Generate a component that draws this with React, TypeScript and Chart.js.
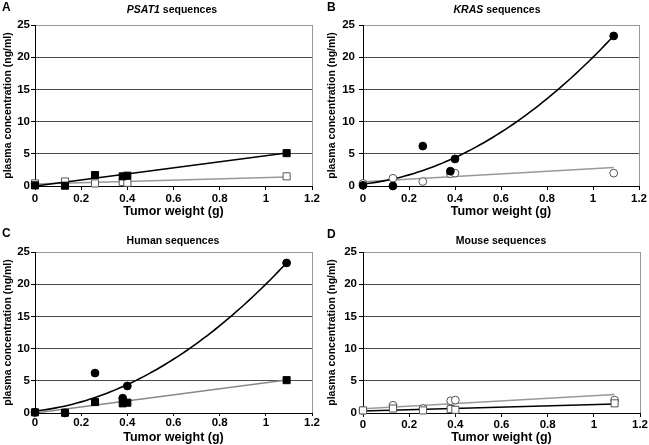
import React, { useEffect, useRef } from 'react';
import { Chart, registerables } from 'chart.js';

Chart.register(...registerables);

// ---- data ----
const tumorWeight = [0, 0.13, 0.26, 0.38, 0.4, 1.09];
const psat1Human = [0.1, 0.05, 1.7, 1.5, 1.6, 5.1]; // filled squares
const psat1Mouse = [0.4, 0.7, 0.4, 0.6, 0.5, 1.5]; // open squares
const krasHuman = [0.1, 0.0, 6.2, 2.3, 4.2, 23.3]; // filled circles
const krasMouse = [0.4, 1.2, 0.7, 1.9, 2.0, 2.0]; // open circles

// trendline coefficients (c0 + c1*x + c2*x^2), read from the drawn trendlines
const psat1HumanTrend = [0.0, 4.7];
const psat1MouseTrend = [0.3, 1.0];
const krasHumanTrend = [0.3, 4.0, 15.7];
const krasMouseTrend = [0.65, 2.05];

const yTickValues = [0, 5, 10, 15, 20, 25];
const xTickLabels = ['0', '0.2', '0.4', '0.6', '0.8', '1', '1.2'];
const panelLetters = ['A', 'B', 'C', 'D'];
const panelTitleItalic = ['PSAT1', 'KRAS', '', ''];
const panelTitleRest = [' sequences', ' sequences', 'Human sequences', 'Mouse sequences'];
const xAxisTitle = 'Tumor weight (g)';
const yAxisTitle = 'plasma concentration (ng/ml)';

const FONT = '"Liberation Sans", Arial, Helvetica, sans-serif';

function evalPoly(c: number[], x: number) {
  let y = 0;
  for (let i = 0; i < c.length; i++) y += c[i] * Math.pow(x, i);
  return y;
}

function trendPoints(c: number[]) {
  const xs = tumorWeight;
  const x0 = xs[0];
  const x1 = xs[xs.length - 1];
  const n = c.length > 2 ? 60 : 1;
  const pts = [] as { x: number; y: number }[];
  for (let i = 0; i <= n; i++) {
    const x = x0 + ((x1 - x0) * i) / n;
    pts.push({ x, y: evalPoly(c, x) });
  }
  return pts;
}

function pts(ys: number[]) {
  return tumorWeight.map((x, i) => ({ x, y: ys[i] }));
}

function markerSet(ys: number[], shape: string, filled: boolean, order: number) {
  const isRect = shape === 'rect';
  return {
    data: pts(ys),
    pointStyle: shape,
    pointRadius: isRect ? 5 : 3.9,
    pointBackgroundColor: filled ? '#000' : '#fff',
    pointBorderColor: filled ? '#000' : '#555',
    pointBorderWidth: 1,
    showLine: false,
    order,
    clip: false as any,
  };
}

function lineSet(c: number[], color: string, order: number) {
  return {
    data: trendPoints(c),
    showLine: true,
    borderColor: color,
    borderWidth: color === '#000' ? 1.6 : 1.5,
    pointRadius: 0,
    tension: 0,
    fill: false,
    order,
  };
}

const GRAY = '#999';

const panelDatasets = [
  [
    markerSet(psat1Human, 'rect', true, 0),
    markerSet(psat1Mouse, 'rect', false, 1),
    lineSet(psat1HumanTrend, '#000', 3),
    lineSet(psat1MouseTrend, GRAY, 4),
  ],
  [
    markerSet(krasHuman, 'circle', true, 0),
    markerSet(krasMouse, 'circle', false, 1),
    lineSet(krasHumanTrend, '#000', 3),
    lineSet(krasMouseTrend, GRAY, 4),
  ],
  [
    markerSet(psat1Human, 'rect', true, 0),
    markerSet(krasHuman, 'circle', true, 1),
    lineSet(krasHumanTrend, '#000', 3),
    lineSet(psat1HumanTrend, '#888', 4),
  ],
  [
    markerSet(psat1Mouse, 'rect', false, 0),
    markerSet(krasMouse, 'circle', false, 1),
    lineSet(psat1MouseTrend, '#000', 3),
    lineSet(krasMouseTrend, GRAY, 4),
  ],
];

type Geo = {
  left: number; top: number; w: number; h: number;
  padTop: number; padRight: number; yWidth: number; xHeight: number;
  yTickPad: number; xTickPad: number; xTickLen: number; xTitlePad: number;
  titleCenter: number; titleTop: number; letterLeft: number; letterTop: number;
};

const geos: Geo[] = [
  { left: 0, top: 0, w: 324, h: 222, padTop: 25, padRight: 12, yWidth: 35, xHeight: 36, yTickPad: 1, xTickPad: 2, xTickLen: 4, xTitlePad: 3, titleCenter: 172, titleTop: 4, letterLeft: 2, letterTop: 1 },
  { left: 324, top: 0, w: 325, h: 222, padTop: 25, padRight: 8, yWidth: 39, xHeight: 36, yTickPad: 4, xTickPad: 2, xTickLen: 4, xTitlePad: 3, titleCenter: 497, titleTop: 4, letterLeft: 327, letterTop: 1 },
  { left: 0, top: 222, w: 324, h: 223, padTop: 30, padRight: 12, yWidth: 35, xHeight: 32, yTickPad: 1, xTickPad: 0, xTickLen: 3, xTitlePad: 0, titleCenter: 173, titleTop: 235, letterLeft: 2, letterTop: 227 },
  { left: 324, top: 222, w: 325, h: 223, padTop: 30, padRight: 8, yWidth: 39, xHeight: 32, yTickPad: 2, xTickPad: 1, xTickLen: 4, xTitlePad: 0, titleCenter: 501, titleTop: 235, letterLeft: 327, letterTop: 228 },
];

function Panel({ idx }: { idx: number }) {
  const ref = useRef<HTMLCanvasElement | null>(null);
  const g = geos[idx];
  useEffect(() => {
    if (!ref.current) return;
    const chart = new Chart(ref.current, {
      type: 'scatter',
      data: { datasets: panelDatasets[idx] as any },
      options: {
        animation: false,
        responsive: false,
        devicePixelRatio: 1,
        events: [],
        layout: { padding: { top: g.padTop, right: g.padRight, left: 0, bottom: 0 } },
        plugins: { legend: { display: false }, tooltip: { enabled: false }, title: { display: false } },
        scales: {
          x: {
            type: 'linear',
            min: 0,
            max: 1.2,
            afterFit: (s: any) => { s.height = g.xHeight; },
            afterBuildTicks: (s: any) => { s.ticks = xTickLabels.map((_, i) => ({ value: i * 0.2 })); },
            ticks: {
              callback: (_v: any, i: number) => xTickLabels[i],
              color: '#000',
              font: { family: FONT, size: 11.5, weight: 'bold' },
              padding: g.xTickPad,
              maxRotation: 0,
              autoSkip: false,
            },
            grid: {
              drawOnChartArea: true,
              drawTicks: true,
              tickLength: g.xTickLen,
              tickColor: '#000',
              color: (c: any) => (c.tick && Math.abs(c.tick.value - 1.2) < 1e-6 ? GRAY : 'rgba(0,0,0,0)'),
            },
            border: { color: '#000', width: 1 },
            title: {
              display: true,
              text: xAxisTitle,
              color: '#000',
              font: { family: FONT, size: 12.5, weight: 'bold' },
              padding: { top: 0, bottom: g.xTitlePad },
            },
          },
          y: {
            type: 'linear',
            min: 0,
            max: 25,
            afterFit: (s: any) => { s.width = g.yWidth; },
            afterBuildTicks: (s: any) => { s.ticks = yTickValues.map((v) => ({ value: v })); },
            ticks: {
              callback: (v: any) => String(v),
              color: '#000',
              font: { family: FONT, size: 11.5, weight: 'bold' },
              padding: g.yTickPad,
            },
            grid: {
              drawTicks: true,
              tickLength: 4,
              tickColor: '#000',
              lineWidth: 1,
              color: (c: any) => {
                const v = c.tick ? c.tick.value : -1;
                if (v === 0) return '#000';
                if (v === 25) return GRAY;
                return '#4a4a4a';
              },
            },
            border: { color: '#000', width: 1 },
            title: {
              display: true,
              text: yAxisTitle,
              color: '#000',
              font: { family: FONT, size: 10.5, weight: 'bold' },
              padding: { top: 2, bottom: 0 },
            },
          },
        },
      } as any,
    });
    return () => chart.destroy();
  }, [idx]);

  return (
    <>
      <div style={{ position: 'absolute', left: g.left, top: g.top, width: g.w, height: g.h }}>
        <canvas ref={ref} width={g.w} height={g.h} style={{ display: 'block' }} />
      </div>
      <div
        style={{
          position: 'absolute', left: g.letterLeft, top: g.letterTop,
          font: `bold 12px ${FONT}`, lineHeight: '12px', color: '#000', whiteSpace: 'nowrap',
        }}
      >
        {panelLetters[idx]}
      </div>
      <div
        style={{
          position: 'absolute', left: g.titleCenter, top: g.titleTop, transform: 'translateX(-50%)',
          font: `bold 10.5px ${FONT}`, lineHeight: '10.5px', color: '#000', whiteSpace: 'nowrap',
        }}
      >
        {panelTitleItalic[idx] ? <i>{panelTitleItalic[idx]}</i> : null}
        {panelTitleRest[idx]}
      </div>
    </>
  );
}

export default function App() {
  return (
    <div
      style={{
        position: 'absolute', left: 0, top: 0, width: 649, height: 445,
        background: '#fff', overflow: 'hidden', fontFamily: FONT,
      }}
    >
      {panelLetters.map((_, i) => (
        <Panel key={i} idx={i} />
      ))}
    </div>
  );
}
